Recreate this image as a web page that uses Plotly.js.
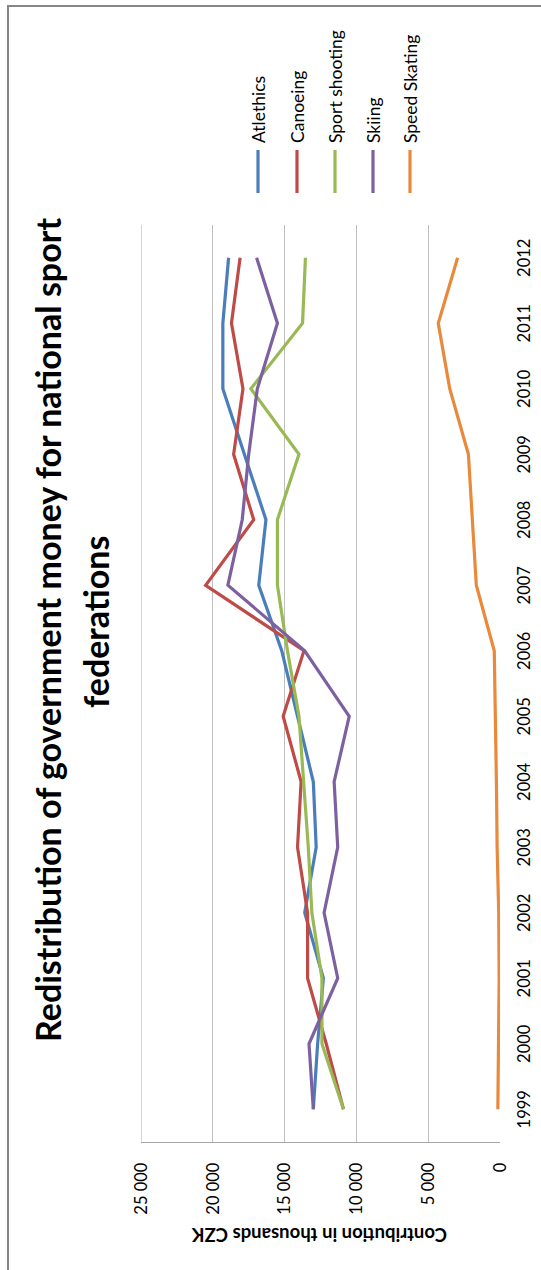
<!DOCTYPE html>
<html>
<head>
<meta charset="utf-8">
<script src="https://cdn.plot.ly/plotly-3.0.1.min.js"></script>
<style>
  html, body { margin: 0; padding: 0; background: #ffffff; overflow: hidden; }
  #wrap { position: relative; width: 541px; height: 1270px; overflow: hidden; background: #fff; }
  #chart { position: absolute; left: 0; top: 0; width: 1270px; height: 541px;
           transform-origin: 0 0; transform: translateY(1270px) rotate(-90deg); }
</style>
</head>
<body>
<div id="wrap"><div id="chart"></div></div>
<script>
// ---- data ----
const years = [1999, 2000, 2001, 2002, 2003, 2004, 2005, 2006, 2007, 2008, 2009, 2010, 2011, 2012];
const seriesNames = ["Atlethics", "Canoeing", "Sport shooting", "Skiing", "Speed Skating"];
const atlethics     = [13000, 12700, 12300, 13600, 12800, 13000, 14100, 15200, 16800, 16300, 17800, 19300, 19300, 18900];
const canoeing      = [10900, 12100, 13400, 13400, 14100, 13850, 15100, 13650, 20500, 17150, 18550, 17900, 18700, 18100];
const sportShooting = [10900, 12400, 12400, 13100, 13350, 13650, 14000, 14800, 15500, 15500, 14000, 17350, 13750, 13550];
const skiing        = [13000, 13300, 11300, 12250, 11300, 11550, 10500, 13600, 18950, 17950, 17500, 16900, 15500, 16950];
const speedSkating  = [150, 100, 60, 90, 200, 250, 300, 400, 1650, 1950, 2200, 3500, 4300, 2950];
const yTicks = [0, 5000, 10000, 15000, 20000, 25000];
const titleLines = ["Redistribution of government money for national sport", "federations"];
const yTitle = "Contribution in thousands CZK";

// ---- styling ----
const colors = ["#4A7EBB", "#BE4B48", "#98B954", "#7D60A0", "#E9893C"];
const allSeries = [atlethics, canoeing, sportShooting, skiing, speedSkating];
const FONT = "Lato, 'Open Sans', sans-serif";

const W = 1270, H = 541;
const mL = 128, mR = 225, mT = 141, mB = 41;
const pw = W - mL - mR, ph = H - mT - mB;
const px = u => (u - mL) / pw;          // pixel (horizontal) -> paper x
const py = v => (H - mB - v) / ph;      // pixel (vertical) -> paper y

const traces = allSeries.map((vals, i) => ({
  type: "scatter", mode: "lines", name: seriesNames[i],
  x: years, y: vals,
  line: { color: colors[i], width: 3.2 },
  showlegend: false, hoverinfo: "skip"
}));

const legendY = [258, 297, 335, 373, 410];
const shapes = [];
const annotations = [];
// top gridline (max of value axis)
shapes.push({ type: "line", xref: "paper", yref: "y", x0: 0, x1: 1,
  y0: yTicks[yTicks.length - 1], y1: yTicks[yTicks.length - 1],
  line: { color: "#BEBEBE", width: 1.3 }, layer: "below" });
seriesNames.forEach((n, i) => {
  shapes.push({ type: "line", xref: "paper", yref: "paper",
    x0: px(1077), x1: px(1120), y0: py(legendY[i]), y1: py(legendY[i]),
    line: { color: colors[i], width: 3.2 } });
  annotations.push({ xref: "paper", yref: "paper", x: px(1125), y: py(legendY[i]),
    xanchor: "left", yanchor: "middle", showarrow: false, text: n,
    font: { family: FONT, size: 17.5, color: "#000" } });
});
// chart border
shapes.push({ type: "rect", xref: "paper", yref: "paper",
  x0: px(-30), x1: px(1264), y0: py(580), y1: py(8),
  line: { color: "#868686", width: 2 }, fillcolor: "rgba(0,0,0,0)" });

annotations.push({ xref: "paper", yref: "paper", x: px(640), y: py(48),
  xanchor: "center", yanchor: "middle", showarrow: false, text: "<b>" + titleLines[0] + "</b>",
  font: { family: FONT, size: 34, color: "#000" } });
annotations.push({ xref: "paper", yref: "paper", x: px(648), y: py(96),
  xanchor: "center", yanchor: "middle", showarrow: false, text: "<b>" + titleLines[1] + "</b>",
  font: { family: FONT, size: 34, color: "#000" } });
annotations.push({ xref: "paper", yref: "paper", x: px(35), y: py(320),
  xanchor: "center", yanchor: "middle", textangle: -90, showarrow: false, text: "<b>" + yTitle + "</b>",
  font: { family: FONT, size: 18.5, color: "#000" } });

const layout = {
  width: W, height: H,
  margin: { l: mL, r: mR, t: mT, b: mB, pad: 0 },
  paper_bgcolor: "#ffffff", plot_bgcolor: "#ffffff",
  separators: ". ",
  showlegend: false,
  xaxis: {
    type: "linear", range: [1998.5, 2012.5], tickvals: years, ticktext: years.map(String),
    showgrid: false, zeroline: false, showline: false, ticks: "",
    ticklabelstandoff: 12,
    tickfont: { family: FONT, size: 16.5, color: "#000" }
  },
  yaxis: {
    range: [0, 25000], tickvals: yTicks, tickformat: ",d",
    showgrid: true, gridcolor: "#BEBEBE", gridwidth: 1.3,
    zeroline: false, showline: true, linecolor: "#A6A6A6", linewidth: 1.3, mirror: false,
    ticks: "", ticklabelstandoff: 16,
    tickfont: { family: FONT, size: 16.5, color: "#000" }
  },
  shapes: shapes,
  annotations: annotations
};

Plotly.newPlot("chart", traces, layout, { displayModeBar: false, staticPlot: true });
</script>
</body>
</html>
